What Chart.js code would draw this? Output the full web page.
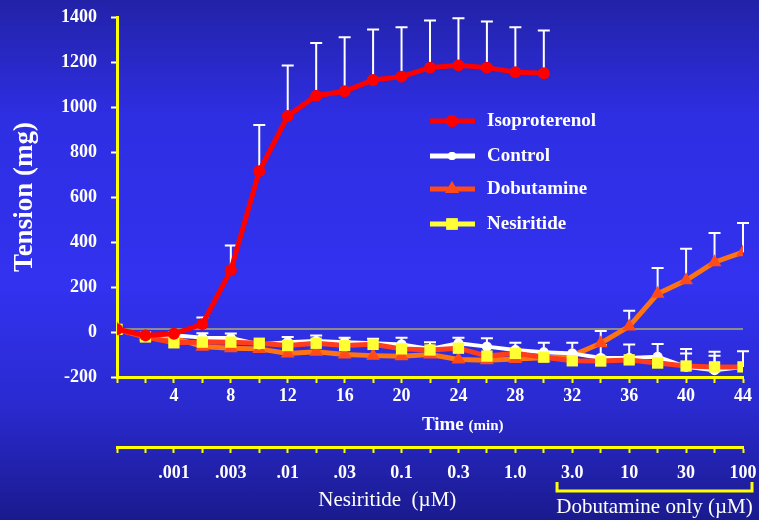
<!DOCTYPE html>
<html>
<head>
<meta charset="utf-8">
<script src="https://cdn.jsdelivr.net/npm/chart.js@4"></script>
<style>
  html, body { margin: 0; padding: 0; }
  body {
    width: 759px; height: 520px; overflow: hidden;
    background: linear-gradient(to bottom, #2222a8 0%, #2e2ee2 22%, #3232f0 55%, #2a2ad0 78%, #1a1a8e 100%);
  }
  #wrap { position: relative; width: 759px; height: 520px; }
</style>
</head>
<body>
<div id="wrap"><canvas id="tensionChart"></canvas></div>
<script>
// time points (min)
const times = [0, 2, 4, 6, 8, 10, 12, 14, 16, 18, 20, 22, 24, 26, 28, 30, 32, 34, 36, 38, 40, 42, 44];

// tension (mg)
const isoproterenol = [12, -15, -8, 35, 275, 715, 960, 1050, 1070, 1120, 1135, 1175, 1185, 1175, 1155, 1150];
const isoproterenolErr = [null, null, null, 30, 110, 205, 225, 235, 240, 225, 220, 210, 210, 205, 200, 190];

const control = [12, -18, -15, -25, -27, -55, -45, -40, -45, -50, -55, -75, -50, -65, -80, -90, -95, -115, -115, -110, -155, -170, -155];
const controlErr = [null, null, 15, 20, 20, null, 23, 25, 20, 20, 30, 30, 25, 37, 32, 42, 47, 57, 60, 57, 80, 82, 70];

const dobutamine = [12, -20, -25, -65, -72, -75, -95, -88, -100, -105, -108, -100, -122, -125, -120, -115, -105, -50, 25, 170, 230, 310, 355];
const dobutamineErr = [null, null, null, null, null, null, null, null, null, null, null, null, null, null, null, null, null, 55, 70, 115, 140, 130, 130];

const nesiritide = [12, -22, -48, -45, -45, -50, -60, -50, -60, -55, -75, -80, -72, -107, -95, -112, -128, -129, -124, -138, -151, -155, -155];
const nesiritideErr = [null, null, null, null, null, null, null, null, null, null, null, null, null, null, null, null, null, null, null, null, 55, 50, null];

const baselineValue = 13;

// lower (concentration) axis
const concTicks = [4, 8, 12, 16, 20, 24, 28, 32, 36, 40, 44];
const concLabels = ['.001', '.003', '.01', '.03', '0.1', '0.3', '1.0', '3.0', '10', '30', '100'];

const SERIF = "'Liberation Serif', 'Times New Roman', serif";

function pts(values) {
    return values.map((v, i) => ({ x: times[i], y: v }));
}

// upper error bars, drawn under the lines
const errorBars = {
    id: 'errorBars',
    beforeDatasetsDraw(chart) {
        const ctx = chart.ctx;
        const y = chart.scales.y;
        ctx.save();
        ctx.strokeStyle = '#ffffff';
        ctx.lineWidth = 2;
        chart.data.datasets.forEach((ds, di) => {
            if (!ds.errors) return;
            const meta = chart.getDatasetMeta(di);
            meta.data.forEach((pt, i) => {
                const e = ds.errors[i];
                if (e == null) return;
                const top = y.getPixelForValue(ds.data[i].y + e);
                ctx.beginPath();
                ctx.moveTo(pt.x, pt.y);
                ctx.lineTo(pt.x, top);
                ctx.moveTo(pt.x - 6, top);
                ctx.lineTo(pt.x + 6, top);
                ctx.stroke();
            });
        });
        ctx.restore();
    }
};

// legend, axis captions and the dobutamine bracket
const extras = {
    id: 'extras',
    afterDraw(chart) {
        const ctx = chart.ctx;
        const x2 = chart.scales.x2;
        ctx.save();

        // legend
        const items = [
            { label: 'Isoproterenol', line: '#ff0000', fill: '#ff0000', style: 'circle', r: 6, y: 121 },
            { label: 'Control', line: '#ffffff', fill: '#ffffff', style: 'circle', r: 4, y: 156 },
            { label: 'Dobutamine', line: '#ff4a1a', fill: '#ff4a1a', style: 'triangle', r: 8, y: 189 },
            { label: 'Nesiritide', line: '#ffff33', fill: '#ffff33', style: 'rect', r: 8, y: 224 }
        ];
        items.forEach(it => {
            ctx.strokeStyle = it.line;
            ctx.lineWidth = 5;
            ctx.beginPath();
            ctx.moveTo(430, it.y);
            ctx.lineTo(475, it.y);
            ctx.stroke();
            ctx.fillStyle = it.fill;
            Chart.helpers.drawPoint(ctx, { pointStyle: it.style, radius: it.r, borderWidth: 0 }, 452, it.y);
            ctx.fill();
            ctx.fillStyle = '#ffffff';
            ctx.font = 'bold 19px ' + SERIF;
            ctx.textBaseline = 'middle';
            ctx.textAlign = 'left';
            ctx.fillText(it.label, 487, it.y);
        });

        // Time (min)
        ctx.fillStyle = '#ffffff';
        ctx.textBaseline = 'middle';
        ctx.textAlign = 'left';
        ctx.font = 'bold 19px ' + SERIF;
        const w1 = ctx.measureText('Time ').width;
        ctx.font = 'bold 15px ' + SERIF;
        const w2 = ctx.measureText('(min)').width;
        const tx = x2.getPixelForValue(24.3) - (w1 + w2) / 2;
        ctx.font = 'bold 19px ' + SERIF;
        ctx.fillText('Time ', tx, 425);
        ctx.font = 'bold 15px ' + SERIF;
        ctx.fillText('(min)', tx + w1, 426);

        // concentration captions
        ctx.font = '21px ' + SERIF;
        ctx.textAlign = 'center';
        const bl = x2.getPixelForValue(31) - 1;
        const br = x2.getPixelForValue(44) + 9;
        ctx.fillText('Nesiritide  (\u00b5M)', x2.getPixelForValue(19), 500);
        ctx.fillText('Dobutamine only (\u00b5M)', (bl + br) / 2, 507);

        // bracket
        ctx.strokeStyle = '#ffff00';
        ctx.lineWidth = 3;
        ctx.beginPath();
        ctx.moveTo(bl, 482);
        ctx.lineTo(bl, 491);
        ctx.lineTo(br, 491);
        ctx.lineTo(br, 482);
        ctx.stroke();

        ctx.restore();
    }
};

function fixX(h) {
    return scale => {
        scale.height = h;
        scale.paddingLeft = 0;
        scale.paddingRight = 0;
    };
}

const ctx = document.getElementById('tensionChart').getContext('2d');

const tensionChart = new Chart(ctx, {
    type: 'line',
    data: {
        datasets: [
            {
                label: 'Isoproterenol',
                data: pts(isoproterenol),
                errors: isoproterenolErr,
                borderColor: '#ff0000',
                backgroundColor: '#ff0000',
                borderWidth: 5,
                pointStyle: 'circle',
                pointRadius: 6,
                pointBorderWidth: 0,
                order: 0
            },
            {
                label: 'Nesiritide',
                data: pts(nesiritide),
                errors: nesiritideErr,
                borderColor: '#ff3c1c',
                backgroundColor: '#ffff33',
                borderWidth: 5,
                pointStyle: 'rect',
                pointRadius: 8,
                pointBorderWidth: 0,
                order: 1
            },
            {
                label: 'Control',
                data: pts(control),
                errors: controlErr,
                borderColor: '#ffffff',
                backgroundColor: '#ffffff',
                borderWidth: 4,
                pointStyle: 'circle',
                pointRadius: 5,
                pointBorderWidth: 0,
                order: 2
            },
            {
                label: 'Dobutamine',
                data: pts(dobutamine),
                errors: dobutamineErr,
                borderColor: '#ff7412',
                backgroundColor: '#ff4a1a',
                borderWidth: 5,
                pointStyle: 'triangle',
                pointRadius: 8,
                pointBorderWidth: 0,
                order: 3
            },
            {
                label: 'baseline',
                data: [{ x: 0, y: baselineValue }, { x: 44, y: baselineValue }],
                borderColor: '#8c8c8c',
                borderWidth: 2,
                pointRadius: 0,
                order: 4
            }
        ]
    },
    options: {
        responsive: true,
        maintainAspectRatio: false,
        animation: false,
        layout: { padding: { top: 17, right: 16, left: 0, bottom: 0 } },
        plugins: {
            legend: { display: false },
            tooltip: { enabled: false }
        },
        elements: { line: { tension: 0 } },
        scales: {
            x: {
                type: 'linear',
                position: 'bottom',
                weight: 0,
                min: 0,
                max: 44,
                afterFit: fixX(70),
                ticks: {
                    stepSize: 2,
                    autoSkip: false,
                    maxRotation: 0,
                    padding: 3,
                    color: '#ffffff',
                    font: { family: SERIF, size: 18, weight: 'bold' },
                    callback: v => (v % 4 === 0 && v > 0) ? String(v) : ''
                },
                grid: { drawOnChartArea: false, drawTicks: true, tickLength: 6, tickColor: '#ffff00', tickWidth: 2 },
                border: { color: '#ffff00', width: 3 }
            },
            x2: {
                type: 'linear',
                position: 'bottom',
                weight: 1,
                min: 0,
                max: 44,
                afterFit: fixX(73),
                ticks: {
                    stepSize: 2,
                    autoSkip: false,
                    maxRotation: 0,
                    padding: 10,
                    color: '#ffffff',
                    font: { family: SERIF, size: 18, weight: 'bold' },
                    callback: v => {
                        const k = concTicks.indexOf(v);
                        return k >= 0 ? concLabels[k] : '';
                    }
                },
                grid: { drawOnChartArea: false, drawTicks: true, tickLength: 6, tickColor: '#ffff00', tickWidth: 2 },
                border: { color: '#ffff00', width: 3 }
            },
            y: {
                min: -200,
                max: 1400,
                afterFit(scale) {
                    scale.width = 117;
                    scale.paddingTop = 0;
                    scale.paddingBottom = 0;
                },
                ticks: {
                    stepSize: 200,
                    padding: 14,
                    color: '#ffffff',
                    font: { family: SERIF, size: 18, weight: 'bold' },
                    callback: v => String(v)
                },
                grid: { drawOnChartArea: false, drawTicks: true, tickLength: 6, tickColor: '#ffffff', tickWidth: 2 },
                border: { color: '#ffff00', width: 3 },
                title: {
                    display: true,
                    text: 'Tension (mg)',
                    color: '#ffffff',
                    font: { family: SERIF, size: 27, weight: 'bold' },
                    padding: { top: 9, bottom: 0 }
                }
            }
        }
    },
    plugins: [errorBars, extras]
});
</script>
</body>
</html>
